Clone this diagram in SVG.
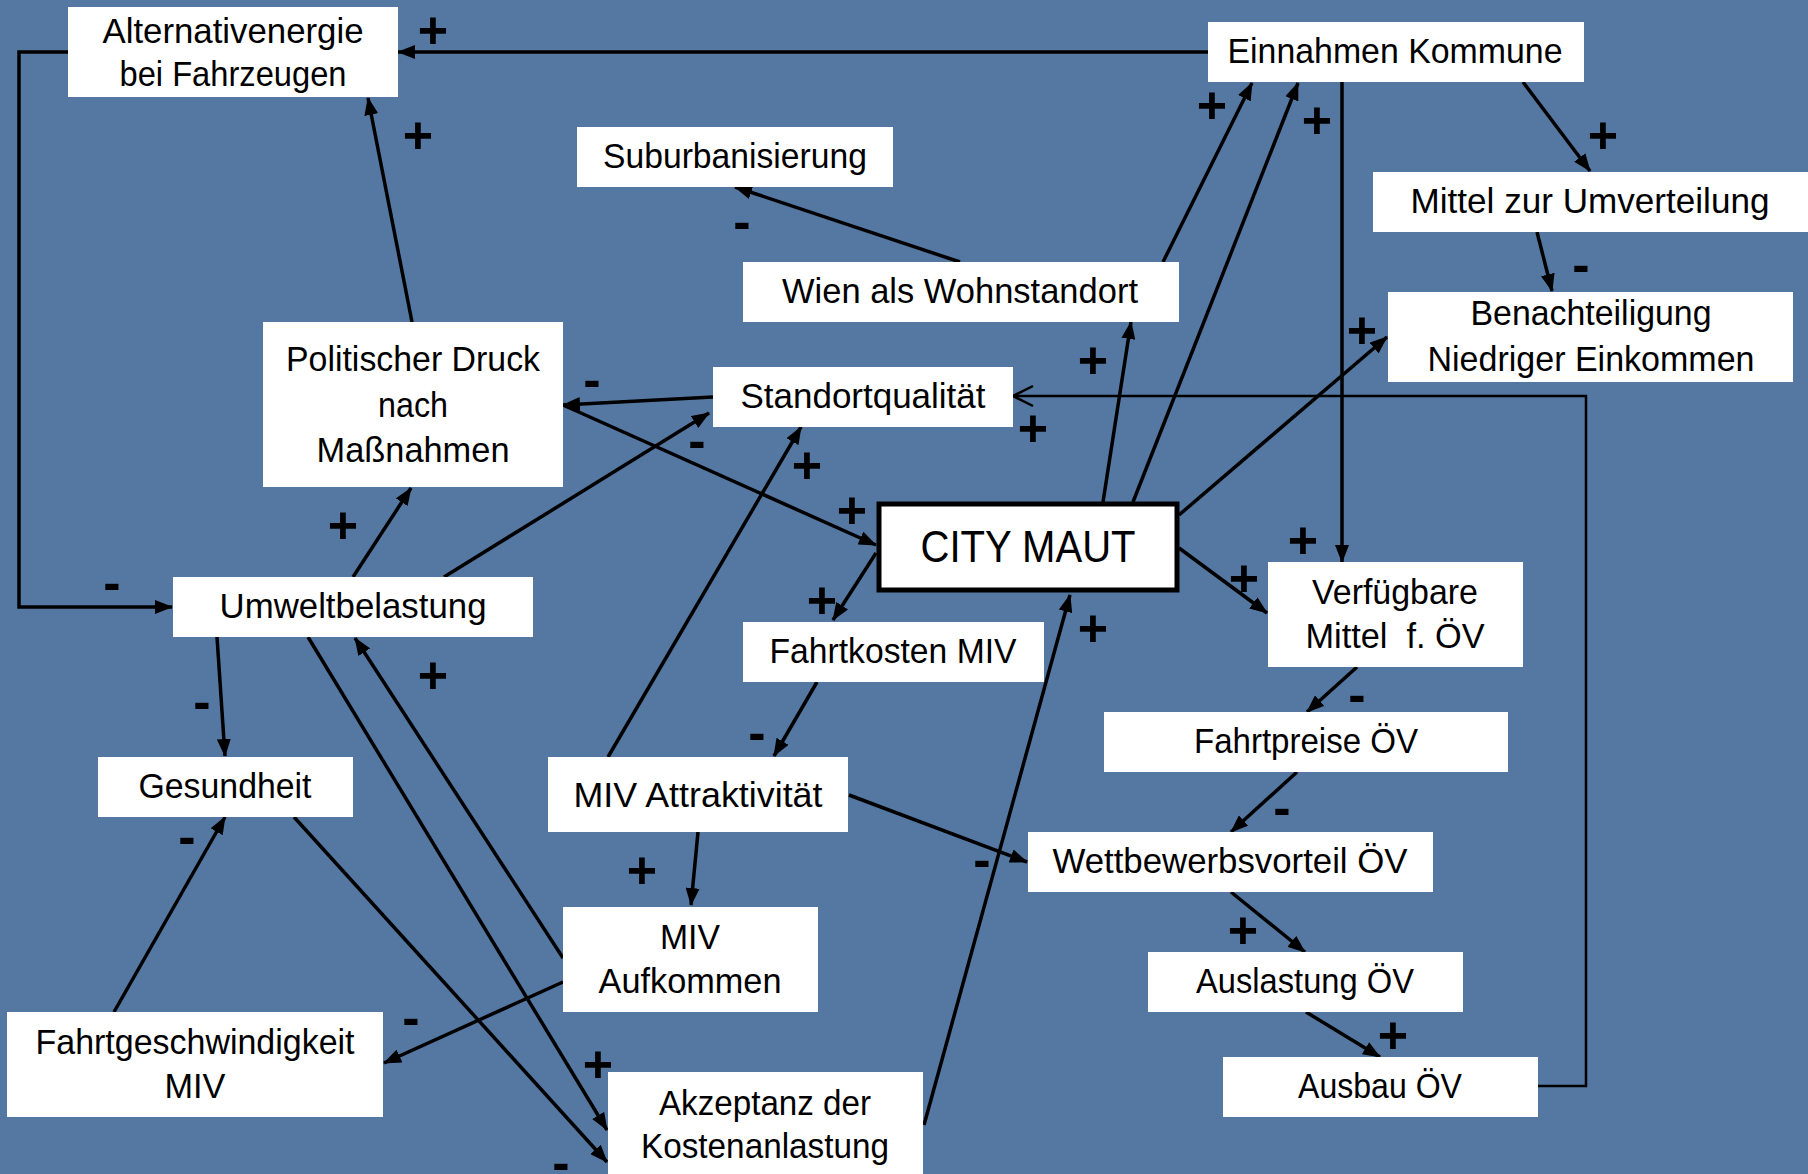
<svg xmlns="http://www.w3.org/2000/svg" width="1808" height="1174" viewBox="0 0 1808 1174">
<defs>
<style>
.bg{fill:#5478a2}
.box{fill:#ffffff}
.cm{fill:#ffffff;stroke:#000000;stroke-width:5}
.t{font-family:"Liberation Sans",Arial,sans-serif;font-size:35px;fill:#000000;text-anchor:middle}
.big{font-size:44px}
.s{font-family:"Liberation Sans",Arial,sans-serif;font-size:52px;font-weight:bold;fill:#000000;text-anchor:middle}
.c{fill:none;stroke:#000000;stroke-width:3.5}
.thin{fill:none;stroke:#000000;stroke-width:2.5}
</style>
<marker id="ah" markerUnits="userSpaceOnUse" markerWidth="18" markerHeight="14" viewBox="0 0 18 14" refX="17" refY="7" orient="auto">
<path d="M0,0 L18,7 L0,14 z" fill="#000000"/>
</marker>
<marker id="oa" markerUnits="userSpaceOnUse" markerWidth="24" markerHeight="24" viewBox="-2 -2 24 24" refX="20" refY="10" orient="auto" overflow="visible">
<path d="M0,0 L20,10 L0,20" fill="none" stroke="#000000" stroke-width="2.5"/>
</marker>
</defs>
<rect class="bg" x="0" y="0" width="1808" height="1174"/>

<g id="connectors">
<path class="c" d="M1208,52 L398,52" marker-end="url(#ah)"/>
<path class="c" d="M68,52 L19,52 L19,607 L172,607" marker-end="url(#ah)"/>
<path class="c" d="M412,322 L368,98" marker-end="url(#ah)"/>
<path class="c" d="M960,262 L735,187" marker-end="url(#ah)"/>
<path class="c" d="M1163,262 L1252,83" marker-end="url(#ah)"/>
<path class="c" d="M1133,502 L1298,83" marker-end="url(#ah)"/>
<path class="c" d="M1103,502 L1131,322" marker-end="url(#ah)"/>
<path class="c" d="M1342,82 L1342,562" marker-end="url(#ah)"/>
<path class="c" d="M1523,82 L1590,171" marker-end="url(#ah)"/>
<path class="c" d="M1537,232 L1552,291" marker-end="url(#ah)"/>
<path class="c" d="M1179,515 L1387,337" marker-end="url(#ah)"/>
<path class="c" d="M713,397 L563,405" marker-end="url(#ah)"/>
<path class="c" d="M563,405 L876,545" marker-end="url(#ah)"/>
<path class="c" d="M444,577 L709,413" marker-end="url(#ah)"/>
<path class="c" d="M353,577 L411,488" marker-end="url(#ah)"/>
<path class="c" d="M608,757 L801,427" marker-end="url(#ah)"/>
<path class="c" d="M876,553 L833,620" marker-end="url(#ah)"/>
<path class="c" d="M924,1125 L1070,595" marker-end="url(#ah)"/>
<path class="c" d="M817,682 L774,756" marker-end="url(#ah)"/>
<path class="c" d="M1179,548 L1267,613" marker-end="url(#ah)"/>
<path class="c" d="M1357,667 L1307,712" marker-end="url(#ah)"/>
<path class="c" d="M1297,772 L1231,832" marker-end="url(#ah)"/>
<path class="c" d="M849,795 L1027,862" marker-end="url(#ah)"/>
<path class="c" d="M698,832 L691,905" marker-end="url(#ah)"/>
<path class="c" d="M1231,892 L1305,952" marker-end="url(#ah)"/>
<path class="c" d="M1306,1012 L1380,1057" marker-end="url(#ah)"/>
<path class="thin" d="M1538,1086 L1586,1086 L1586,396 L1013,396" marker-end="url(#oa)"/>
<path class="c" d="M217,637 L225,756" marker-end="url(#ah)"/>
<path class="c" d="M114,1012 L225,817" marker-end="url(#ah)"/>
<path class="c" d="M294,817 L607,1162" marker-end="url(#ah)"/>
<path class="c" d="M308,637 L607,1130" marker-end="url(#ah)"/>
<path class="c" d="M563,958 L355,638" marker-end="url(#ah)"/>
<path class="c" d="M563,982 L384,1063" marker-end="url(#ah)"/>
</g>

<g id="signs">
<text class="s" x="433" y="48">+</text>
<text class="s" x="418" y="153">+</text>
<text class="s" x="742" y="239">-</text>
<text class="s" x="1212" y="123">+</text>
<text class="s" x="1317" y="138">+</text>
<text class="s" x="1603" y="153">+</text>
<text class="s" x="1581" y="282">-</text>
<text class="s" x="1362" y="348">+</text>
<text class="s" x="592" y="397">-</text>
<text class="s" x="112" y="600">-</text>
<text class="s" x="343" y="543">+</text>
<text class="s" x="202" y="719">-</text>
<text class="s" x="433" y="693">+</text>
<text class="s" x="697" y="458">-</text>
<text class="s" x="807" y="483">+</text>
<text class="s" x="852" y="528">+</text>
<text class="s" x="1033" y="446">+</text>
<text class="s" x="1093" y="378">+</text>
<text class="s" x="822" y="618">+</text>
<text class="s" x="1093" y="646">+</text>
<text class="s" x="1303" y="558">+</text>
<text class="s" x="1244" y="596">+</text>
<text class="s" x="1357" y="712">-</text>
<text class="s" x="187" y="854">-</text>
<text class="s" x="411" y="1035">-</text>
<text class="s" x="598" y="1082">+</text>
<text class="s" x="561" y="1180">-</text>
<text class="s" x="757" y="750">-</text>
<text class="s" x="642" y="888">+</text>
<text class="s" x="982" y="877">-</text>
<text class="s" x="1282" y="825">-</text>
<text class="s" x="1243" y="948">+</text>
<text class="s" x="1393" y="1053">+</text>
</g>

<g id="n-alternativ"><rect class="box" x="68" y="7" width="330" height="90"/>
<text class="t" x="233" y="43" textLength="261" lengthAdjust="spacingAndGlyphs">Alternativenergie</text>
<text class="t" x="233" y="86" textLength="227" lengthAdjust="spacingAndGlyphs">bei Fahrzeugen</text></g>

<g id="n-suburb"><rect class="box" x="577" y="127" width="316" height="60"/>
<text class="t" x="735" y="168" textLength="264" lengthAdjust="spacingAndGlyphs">Suburbanisierung</text></g>

<g id="n-wien"><rect class="box" x="743" y="262" width="436" height="60"/>
<text class="t" x="960" y="303" textLength="356" lengthAdjust="spacingAndGlyphs">Wien als Wohnstandort</text></g>

<g id="n-einnahmen"><rect class="box" x="1208" y="22" width="376" height="60"/>
<text class="t" x="1395" y="63" textLength="335" lengthAdjust="spacingAndGlyphs">Einnahmen Kommune</text></g>

<g id="n-mittel"><rect class="box" x="1373" y="172" width="435" height="60"/>
<text class="t" x="1590" y="213" textLength="359" lengthAdjust="spacingAndGlyphs">Mittel zur Umverteilung</text></g>

<g id="n-benacht"><rect class="box" x="1388" y="292" width="405" height="90"/>
<text class="t" x="1591" y="325" textLength="241" lengthAdjust="spacingAndGlyphs">Benachteiligung</text>
<text class="t" x="1591" y="371" textLength="327" lengthAdjust="spacingAndGlyphs">Niedriger Einkommen</text></g>

<g id="n-politisch"><rect class="box" x="263" y="322" width="300" height="165"/>
<text class="t" x="413" y="371" textLength="254" lengthAdjust="spacingAndGlyphs">Politischer Druck</text>
<text class="t" x="413" y="417" textLength="70" lengthAdjust="spacingAndGlyphs">nach</text>
<text class="t" x="413" y="462" textLength="193" lengthAdjust="spacingAndGlyphs">Maßnahmen</text></g>

<g id="n-standort"><rect class="box" x="713" y="367" width="300" height="60"/>
<text class="t" x="863" y="408" textLength="245" lengthAdjust="spacingAndGlyphs">Standortqualität</text></g>

<g id="n-citymaut"><rect class="cm" x="879" y="504" width="298" height="86"/>
<text class="t big" x="1028" y="562" textLength="215" lengthAdjust="spacingAndGlyphs">CITY MAUT</text></g>

<g id="n-umwelt"><rect class="box" x="173" y="577" width="360" height="60"/>
<text class="t" x="353" y="618" textLength="267" lengthAdjust="spacingAndGlyphs">Umweltbelastung</text></g>

<g id="n-fahrtkosten"><rect class="box" x="743" y="622" width="301" height="60"/>
<text class="t" x="893" y="663" textLength="247" lengthAdjust="spacingAndGlyphs">Fahrtkosten MIV</text></g>

<g id="n-verfuegbar"><rect class="box" x="1268" y="562" width="255" height="105"/>
<text class="t" x="1395" y="604" textLength="166" lengthAdjust="spacingAndGlyphs">Verfügbare</text>
<text class="t" x="1395" y="648" textLength="179" lengthAdjust="spacingAndGlyphs" xml:space="preserve">Mittel  f. ÖV</text></g>

<g id="n-fahrtpreise"><rect class="box" x="1104" y="712" width="404" height="60"/>
<text class="t" x="1306" y="753" textLength="224" lengthAdjust="spacingAndGlyphs">Fahrtpreise ÖV</text></g>

<g id="n-gesundheit"><rect class="box" x="98" y="757" width="255" height="60"/>
<text class="t" x="225" y="798" textLength="173" lengthAdjust="spacingAndGlyphs">Gesundheit</text></g>

<g id="n-mivattr"><rect class="box" x="548" y="757" width="300" height="75"/>
<text class="t" x="698" y="807" textLength="249" lengthAdjust="spacingAndGlyphs">MIV Attraktivität</text></g>

<g id="n-wettbewerb"><rect class="box" x="1028" y="832" width="405" height="60"/>
<text class="t" x="1230" y="873" textLength="355" lengthAdjust="spacingAndGlyphs">Wettbewerbsvorteil ÖV</text></g>

<g id="n-aufkommen"><rect class="box" x="563" y="907" width="255" height="105"/>
<text class="t" x="690" y="949" textLength="60" lengthAdjust="spacingAndGlyphs">MIV</text>
<text class="t" x="690" y="993" textLength="183" lengthAdjust="spacingAndGlyphs">Aufkommen</text></g>

<g id="n-fahrtgeschw"><rect class="box" x="7" y="1012" width="376" height="105"/>
<text class="t" x="195" y="1054" textLength="319" lengthAdjust="spacingAndGlyphs">Fahrtgeschwindigkeit</text>
<text class="t" x="195" y="1098" textLength="61" lengthAdjust="spacingAndGlyphs">MIV</text></g>

<g id="n-auslastung"><rect class="box" x="1148" y="952" width="315" height="60"/>
<text class="t" x="1305" y="993" textLength="218" lengthAdjust="spacingAndGlyphs">Auslastung ÖV</text></g>

<g id="n-ausbau"><rect class="box" x="1223" y="1057" width="315" height="60"/>
<text class="t" x="1380" y="1098" textLength="164" lengthAdjust="spacingAndGlyphs">Ausbau ÖV</text></g>

<g id="n-akzeptanz"><rect class="box" x="608" y="1072" width="315" height="110"/>
<text class="t" x="765" y="1115" textLength="212" lengthAdjust="spacingAndGlyphs">Akzeptanz der</text>
<text class="t" x="765" y="1158" textLength="248" lengthAdjust="spacingAndGlyphs">Kostenanlastung</text></g>
</svg>
